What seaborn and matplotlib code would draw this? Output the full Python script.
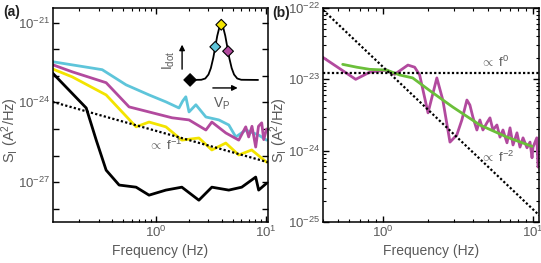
import numpy as np
import pandas as pd
import matplotlib
matplotlib.use('Agg')
import matplotlib.pyplot as plt
import seaborn as sns

# ---- panel (a): noise spectra, S_I = 10**exp ----
cyan_f = [0.1135, 0.323, 0.533, 0.864, 1.23, 1.62, 1.75, 1.87, 2.0, 2.31, 2.85, 3.74, 4.61, 5.34, 6.58, 8.63, 10.2]
cyan_e = [-22.47, -22.77, -23.34, -23.72, -23.98, -24.21, -23.95, -23.79, -24.36, -24.09, -24.55, -24.66, -24.85, -25.30, -25.04, -25.23, -25.42]

mag_f = [0.1135, 0.172, 0.351, 0.568, 0.864, 1.40, 2.0, 2.85, 3.23, 4.33, 5.68, 6.58, 7.0, 7.5, 8.11, 8.6, 9.2, 9.6, 10.2]
mag_e = [-22.58, -22.85, -23.26, -24.17, -24.36, -24.58, -24.66, -25.04, -24.74, -25.15, -25.42, -24.92, -25.30, -24.90, -25.68, -24.90, -24.77, -25.40, -25.00]

yel_f = [0.1135, 0.172, 0.351, 0.658, 0.864, 1.23, 1.72, 2.46, 3.23, 4.33, 5.68, 7.46, 10.2]
yel_e = [-22.74, -23.04, -23.72, -24.92, -24.74, -24.92, -25.42, -25.34, -25.79, -25.53, -25.98, -25.79, -26.25]

blk_f = [0.1135, 0.231, 0.285, 0.351, 0.461, 0.658, 0.864, 1.23, 1.72, 2.46, 3.23, 4.61, 6.05, 8.11, 8.63, 10.2]
blk_e = [-22.89, -24.21, -25.42, -26.55, -27.11, -27.19, -27.49, -27.30, -27.19, -27.68, -27.19, -27.30, -27.19, -26.81, -27.30, -27.04]

# 1/f guide line end points
guide1_f = [0.1135, 10.5]
guide1_S = [1.05e-24, 5.6e-27]

# inset schematic: dot current vs plunger voltage
peak_x = [-3.9, -2.5, -2.0, -1.6, -1.3, -1.0, -0.75, -0.5, -0.25, 0, 0.25, 0.5, 0.75, 1.0, 1.3, 1.6, 2.0, 2.5, 4.6]
peak_y = [0, 0.003, 0.026, 0.098, 0.215, 0.40, 0.60, 0.80, 0.945, 1.0, 0.945, 0.80, 0.60, 0.40, 0.215, 0.098, 0.026, 0.003, 0]
dia_x = [-3.9, -0.75, 0.0, 0.85]
dia_y = [0.0, 0.60, 1.0, 0.52]

# ---- panel (b) ----
b_f = [0.398, 0.66, 0.819, 1.06, 1.20, 1.47, 1.63, 1.76, 2.0, 2.29, 2.51, 2.80, 3.11, 3.36, 3.63, 3.80, 3.98, 4.23, 4.43,
       4.64, 4.93, 5.17, 5.41, 5.75, 6.03, 6.31, 6.71, 7.03, 7.36, 7.82, 8.19, 8.58, 9.12, 9.55, 9.85, 10.0, 10.6, 10.8]
b_e = [-22.69, -23.00, -22.90, -22.87, -22.93, -22.80, -22.83, -22.94, -23.47, -22.98, -23.29, -23.88, -23.78, -23.57, -23.29,
       -23.36, -23.53, -23.71, -23.57, -23.71, -23.61, -23.54, -23.71, -23.64, -23.81, -23.71, -23.89, -23.68, -23.92, -23.75,
       -23.95, -23.82, -23.96, -23.88, -24.10, -23.95, -23.82, -24.23]

fit_f = [0.541, 0.671, 0.819, 1.06, 1.30, 1.58, 2.06, 2.93, 4.43, 6.71, 9.85]
fit_e = [-22.79, -22.83, -22.86, -22.87, -22.94, -22.98, -23.16, -23.39, -23.64, -23.81, -23.94]

flat_f = [0.4, 11.0]
flat_S = [1.23e-23, 1.23e-23]
guide2_f = [0.4, 11.0]
guide2_S = [9.4e-23, 1.24e-25]

cols = {'cyan': '#5ec5da', 'magenta': '#b24a9e', 'yellow': '#f3e400', 'black': '#000000'}
gray = '#5a5a5a'

sns.set_style('ticks')
plt.rcParams['font.family'] = ['Liberation Sans', 'DejaVu Sans']
plt.rcParams['mathtext.fontset'] = 'custom'
plt.rcParams['mathtext.rm'] = 'Liberation Sans'
plt.rcParams['mathtext.it'] = 'Liberation Sans:italic'
plt.rcParams['axes.linewidth'] = 1.1

df = pd.concat([
    pd.DataFrame({'f': cyan_f, 'S': 10.0 ** np.array(cyan_e), 'trace': 'cyan'}),
    pd.DataFrame({'f': mag_f, 'S': 10.0 ** np.array(mag_e), 'trace': 'magenta'}),
    pd.DataFrame({'f': yel_f, 'S': 10.0 ** np.array(yel_e), 'trace': 'yellow'}),
    pd.DataFrame({'f': blk_f, 'S': 10.0 ** np.array(blk_e), 'trace': 'black'}),
])

fig = plt.figure(figsize=(5.41, 2.63), dpi=100)
axa = fig.add_axes([53 / 541, 41 / 263, 215 / 541, 214 / 263])
axb = fig.add_axes([323 / 541, 41 / 263, 216 / 541, 214 / 263])

for ax in (axa, axb):
    ax.set_xscale('log')
    ax.set_yscale('log')

sns.lineplot(data=df, x='f', y='S', hue='trace', palette=cols, estimator=None, sort=False,
             lw=2, legend=False, ax=axa)
axa.plot(guide1_f, guide1_S, ls=(0, (1, 1)), color='black', lw=1.6)
axa.set_xlim(0.115, 10.5)
axa.set_ylim(10 ** -28.5, 10 ** -20.45)
axa.set_yticks(10.0 ** np.arange(-28, -20))
axa.set_yticklabels(['' if e not in (-21, -24, -27) else r'$10^{%d}$' % e for e in range(-28, -20)])
axa.yaxis.set_minor_locator(matplotlib.ticker.NullLocator())
axa.text(0.44, 0.36, r'$\propto$ f$^{-1}$', transform=axa.transAxes, color=gray, fontsize=9.5,
         va='center', zorder=6)

# inset
ins = axa.inset_axes([0.619, 0.645, 0.344, 0.30])
ins.axis('off')
sns.lineplot(x=peak_x, y=peak_y, ax=ins, color='black', lw=1.3, sort=False, estimator=None)
ins.scatter(dia_x, dia_y, marker='D', s=[40, 30, 30, 30],
            c=[cols['black'], cols['cyan'], cols['yellow'], cols['magenta']],
            edgecolors='black', linewidths=0.8, zorder=3, clip_on=False)
ins.set_xlim(-4.4, 4.85)
ins.set_ylim(-0.073, 1.09)
ins.annotate('', xy=(-4.9, 0.69), xytext=(-4.9, 0.145),
             arrowprops=dict(arrowstyle='-|>', color='black', lw=1, mutation_scale=8), annotation_clip=False)
ins.annotate('', xy=(2.4, -0.145), xytext=(-1.4, -0.145),
             arrowprops=dict(arrowstyle='-|>', color='black', lw=1, mutation_scale=8), annotation_clip=False)
ins.text(-6.5, 0.36, r'I$_\mathrm{dot}$', rotation=90, ha='center', va='center', color=gray, fontsize=10)
ins.text(0.1, -0.44, r'V$_\mathrm{P}$', ha='center', va='center', color=gray, fontsize=10)

# panel b
sns.lineplot(x=b_f, y=10.0 ** np.array(b_e), ax=axb, color=cols['magenta'], lw=2, sort=False, estimator=None)
sns.lineplot(x=fit_f, y=10.0 ** np.array(fit_e), ax=axb, color='#6bbf3a', lw=2, sort=False, estimator=None)
axb.plot(flat_f, flat_S, ls=(0, (1, 1)), color='black', lw=1.6)
axb.plot(guide2_f, guide2_S, ls=(0, (1, 1)), color='black', lw=1.6)
axb.set_xlim(0.4, 10.96)
axb.set_ylim(1e-25, 1e-22)
axb.set_yticks([1e-25, 1e-24, 1e-23, 1e-22])
axb.set_yticklabels([r'$10^{-25}$', r'$10^{-24}$', r'$10^{-23}$', r'$10^{-22}$'])
axb.text(0.727, 0.745, r'$\propto$ f$^{0}$', transform=axb.transAxes, color=gray, fontsize=9.5, va='center')
axb.text(0.727, 0.30, r'$\propto$ f$^{-2}$', transform=axb.transAxes, color=gray, fontsize=9.5, va='center')

for ax in (axa, axb):
    ax.set_xticks([1, 10])
    ax.set_xticklabels([r'$10^{0}$', r'$10^{1}$'])
    ax.tick_params(which='both', direction='in', top=True, right=True, colors='black',
                   labelcolor=gray, labelsize=9.5, pad=2)
    ax.tick_params(which='major', length=4, width=1)
    ax.tick_params(which='minor', length=2.5, width=0.8)
    for s in ax.spines.values():
        s.set_visible(True)
        s.set_color('black')
    ax.set_xlabel('Frequency (Hz)', color=gray, fontsize=10, labelpad=3)
    ax.set_ylabel(r'S$_\mathrm{I}$ (A$^2$/Hz)', color=gray, fontsize=10.5)
axa.yaxis.set_label_coords(-0.15, 0.43)
axb.yaxis.set_label_coords(-0.155, 0.43)

fig.text(3 / 541, 1 - 12 / 263, '(a)', fontsize=10, fontweight='bold', va='center', color='#222222')
fig.text(272 / 541, 1 - 13 / 263, '(b)', fontsize=10, fontweight='bold', va='center', color='#222222')

fig.savefig('out.png', dpi=100)
